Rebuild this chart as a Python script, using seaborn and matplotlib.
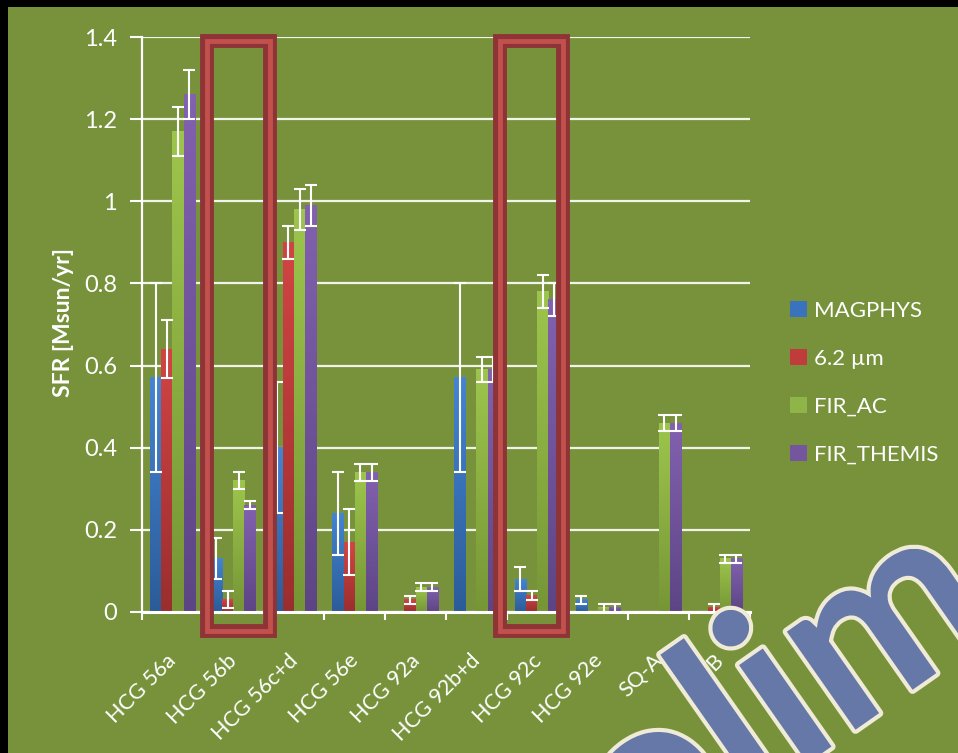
import numpy as np
import pandas as pd
import matplotlib
matplotlib.use("Agg")
import matplotlib.pyplot as plt
import seaborn as sns
from matplotlib.patches import Rectangle
from matplotlib.colors import LinearSegmentedColormap
from matplotlib.transforms import ScaledTranslation
import matplotlib.patheffects as pe

nan = np.nan
galaxies = ["HCG 56a", "HCG 56b", "HCG 56c+d", "HCG 56e", "HCG 92a",
            "HCG 92b+d", "HCG 92c", "HCG 92e", "SQ-A", "SQ-B"]
methods = ["MAGPHYS", "6.2 \u00b5m", "FIR_AC", "FIR_THEMIS"]

magphys = [0.57, 0.13, 0.40, 0.24, nan, 0.57, 0.08, 0.03, nan, nan]
magphys_err = [0.23, 0.05, 0.16, 0.10, nan, 0.23, 0.03, 0.01, nan, nan]
pah62 = [0.64, 0.03, 0.90, 0.17, 0.03, nan, 0.04, nan, nan, 0.01]
pah62_err = [0.07, 0.02, 0.04, 0.08, 0.01, nan, 0.01, nan, nan, 0.01]
fir_ac = [1.17, 0.32, 0.98, 0.34, 0.06, 0.59, 0.78, 0.01, 0.46, 0.13]
fir_ac_err = [0.06, 0.02, 0.05, 0.02, 0.01, 0.03, 0.04, 0.01, 0.02, 0.01]
fir_themis = [1.26, 0.26, 0.99, 0.34, 0.06, 0.59, 0.76, 0.01, 0.46, 0.13]
fir_themis_err = [0.06, 0.01, 0.05, 0.02, 0.01, 0.03, 0.04, 0.01, 0.02, 0.01]

yticks = [0, 0.2, 0.4, 0.6, 0.8, 1.0, 1.2, 1.4]
ytick_labels = ["0", "0.2", "0.4", "0.6", "0.8", "1", "1.2", "1.4"]

values = [magphys, pah62, fir_ac, fir_themis]
errors = [magphys_err, pah62_err, fir_ac_err, fir_themis_err]

rows = []
for m, vals in zip(methods, values):
    for g, v in zip(galaxies, vals):
        rows.append({"galaxy": g, "method": m, "sfr": v})
df = pd.DataFrame(rows)
df["sfr_plot"] = df["sfr"].fillna(0.0)

BG = "#77923B"
base_cols = ["#3A73BD", "#C03B3B", "#8FB447", "#74559E"]
top_cols = ["#4484D2", "#D24444", "#9DC54C", "#8261AF"]
bot_cols = ["#2C5C98", "#9A2E2E", "#769636", "#5D4585"]
palette = dict(zip(methods, base_cols))

sns.set_theme(style="white")
plt.rcParams["font.family"] = ["Lato", "DejaVu Sans"]

W, H = 958, 753
fig = plt.figure(figsize=(W / 100, H / 100), dpi=100, facecolor="black")
fig.patches.append(Rectangle((8 / W, 0), 1, 1 - 7 / H, transform=fig.transFigure,
                             facecolor=BG, edgecolor="none", zorder=-10))

ax = fig.add_axes([142 / W, 1 - 612 / H, (750 - 142) / W, (612 - 37) / H])
ax.set_facecolor(BG)

sns.barplot(data=df, x="galaxy", y="sfr_plot", hue="method", order=galaxies,
            hue_order=methods, palette=palette, width=0.74, gap=0,
            errorbar=None, ax=ax, saturation=1, zorder=2, linewidth=0)

bar_containers = list(ax.containers)
handles, labels = ax.get_legend_handles_labels()
if ax.legend_ is not None:
    ax.legend_.remove()

# gradient fill + error bars
for i, cont in enumerate(bar_containers):
    cmap = LinearSegmentedColormap.from_list(f"g{i}", [bot_cols[i], top_cols[i]])
    for j, bar in enumerate(cont):
        h = bar.get_height()
        x0 = bar.get_x()
        w = bar.get_width()
        if h > 0:
            ax.imshow(np.linspace(1, 0, 128)[:, None], extent=[x0, x0 + w, 0, h],
                      cmap=cmap, vmin=0, vmax=1, aspect="auto", zorder=2.5,
                      interpolation="bilinear")
        e = errors[i][j]
        if not np.isnan(e) and not np.isnan(values[i][j]):
            ax.errorbar(x0 + w / 2, h, yerr=e, fmt="none", ecolor="white",
                        elinewidth=1.5, capsize=4.2, capthick=1.5, zorder=4)

ax.set_xlim(-0.5, len(galaxies) - 0.5)
ax.set_ylim(0, 1.4)
ax.set_aspect("auto")

ax.set_axisbelow(True)
ax.yaxis.grid(True, color="white", linewidth=1.6, alpha=0.9)
ax.xaxis.grid(False)
for s in ["top", "right"]:
    ax.spines[s].set_visible(False)
ax.spines["left"].set_color("white")
ax.spines["left"].set_linewidth(1.6)
ax.spines["bottom"].set_color("white")
ax.spines["bottom"].set_linewidth(2.2)
ax.spines["bottom"].set_zorder(5)

ax.set_yticks(yticks)
ax.set_yticklabels(ytick_labels, color="white", fontsize=17)
ax.tick_params(axis="y", left=True, length=9, width=1.5, color="white", pad=9)

ax.set_xticks(range(len(galaxies)))
ax.set_xticklabels(galaxies, rotation=45, ha="right", va="baseline",
                   rotation_mode="anchor", color="white", fontsize=15.5)
ax.tick_params(axis="x", bottom=False, length=0, pad=36)
shift = ScaledTranslation(5 / 100, 0, fig.dpi_scale_trans)
for lab in ax.get_xticklabels():
    lab.set_transform(lab.get_transform() + shift)
ax.set_xticks(np.arange(-0.5, len(galaxies)), minor=True)
ax.tick_params(axis="x", which="minor", bottom=True, length=6, width=1.5,
               color="white")

ax.set_xlabel("")
ax.set_ylabel("")
fig.text(63 / W, 1 - 322 / H, "SFR [Msun/yr]", rotation=90, ha="center",
         va="center", color="white", fontsize=16.5, fontweight="bold")

leg = fig.legend(handles, labels, loc="center left",
                 bbox_to_anchor=(790 / W, 1 - 383 / H), frameon=False,
                 fontsize=16, labelcolor="white", handlelength=0.75,
                 handleheight=0.75, handletextpad=0.35, labelspacing=1.26,
                 borderpad=0, borderaxespad=0)

# highlight boxes
def box(x0, x1, y0, y1):
    inset = 7
    rx = (x0 + inset) / W
    ry = 1 - (y1 - inset) / H
    rw = (x1 - x0 - 2 * inset) / W
    rh = (y1 - y0 - 2 * inset) / H
    fig.add_artist(Rectangle((rx, ry), rw, rh, transform=fig.transFigure,
                             fill=False, edgecolor="#8E3437", linewidth=10,
                             joinstyle="miter", zorder=6))
    fig.add_artist(Rectangle((rx, ry), rw, rh, transform=fig.transFigure,
                             fill=False, edgecolor="#C2504D", linewidth=3.5,
                             joinstyle="miter", zorder=6.1))

box(200, 277, 34, 638)
box(493, 570, 34, 638)

# watermark
fig.text(638 / W, 1 - 882 / H, "olim", rotation=35, rotation_mode="anchor",
         ha="left", va="baseline", fontsize=168, fontweight="bold",
         color="#6678A8", zorder=10,
         path_effects=[pe.withStroke(linewidth=6, foreground="#EFEBD6")])

fig.savefig("out.png", dpi=100, facecolor=fig.get_facecolor())
